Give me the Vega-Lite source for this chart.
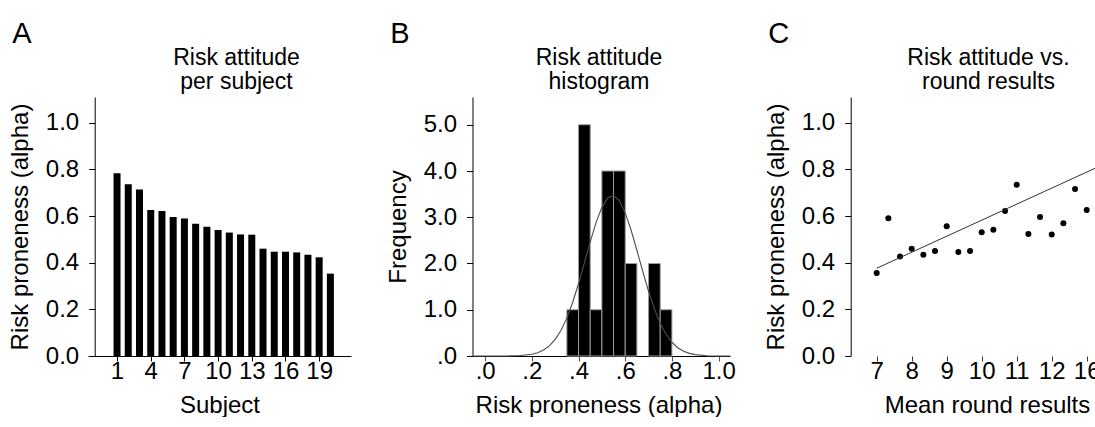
{
  "$schema": "https://vega.github.io/schema/vega-lite/v6.json",
  "padding": {"left": 8, "top": 20, "right": 0, "bottom": 0},
  "spacing": 116,
  "bounds": "flush",
  "config": {
    "font": "Liberation Sans",
    "view": {"stroke": null},
    "axis": {
      "grid": false,
      "labelFont": "Liberation Sans",
      "titleFont": "Liberation Sans",
      "labelFontSize": 24,
      "titleFontSize": 24,
      "titleFontWeight": "normal",
      "labelColor": "black",
      "titleColor": "black",
      "domainColor": "black",
      "tickColor": "black",
      "domainWidth": 1,
      "tickWidth": 1
    },
    "axisX": {"tickSize": 5, "labelPadding": -2, "titlePadding": 10, "labelOverlap": false},
    "axisY": {"tickSize": 6, "labelPadding": 10, "titlePadding": 13},
    "title": {"font": "Liberation Sans", "fontSize": 29, "fontWeight": "normal", "anchor": "start", "frame": "bounds", "color": "black", "offset": -3, "dx": 4}
  },
  "datasets": {
    "subjects": [
      {"subject": 1, "alpha": 0.783}, {"subject": 2, "alpha": 0.736}, {"subject": 3, "alpha": 0.714},
      {"subject": 4, "alpha": 0.626}, {"subject": 5, "alpha": 0.621}, {"subject": 6, "alpha": 0.596},
      {"subject": 7, "alpha": 0.589}, {"subject": 8, "alpha": 0.567}, {"subject": 9, "alpha": 0.554},
      {"subject": 10, "alpha": 0.540}, {"subject": 11, "alpha": 0.529}, {"subject": 12, "alpha": 0.521},
      {"subject": 13, "alpha": 0.520}, {"subject": 14, "alpha": 0.460}, {"subject": 15, "alpha": 0.447},
      {"subject": 16, "alpha": 0.447}, {"subject": 17, "alpha": 0.444}, {"subject": 18, "alpha": 0.434},
      {"subject": 19, "alpha": 0.423}, {"subject": 20, "alpha": 0.353}
    ],
    "bins": [
      {"start": 0.35, "end": 0.40, "count": 1}, {"start": 0.40, "end": 0.45, "count": 5},
      {"start": 0.45, "end": 0.50, "count": 1}, {"start": 0.50, "end": 0.55, "count": 4},
      {"start": 0.55, "end": 0.60, "count": 4}, {"start": 0.60, "end": 0.65, "count": 2},
      {"start": 0.70, "end": 0.75, "count": 2}, {"start": 0.75, "end": 0.80, "count": 1}
    ],
    "curve": [
      {"x": -0.05, "density": 0}, {"x": 0.0, "density": 0}, {"x": 0.05, "density": 0.0003},
      {"x": 0.10, "density": 0.0019}, {"x": 0.15, "density": 0.0095}, {"x": 0.20, "density": 0.0386},
      {"x": 0.225, "density": 0.072}, {"x": 0.25, "density": 0.129}, {"x": 0.275, "density": 0.220},
      {"x": 0.30, "density": 0.359}, {"x": 0.325, "density": 0.557}, {"x": 0.35, "density": 0.824},
      {"x": 0.375, "density": 1.163}, {"x": 0.40, "density": 1.567}, {"x": 0.425, "density": 2.014},
      {"x": 0.45, "density": 2.467}, {"x": 0.475, "density": 2.883}, {"x": 0.50, "density": 3.214},
      {"x": 0.525, "density": 3.418}, {"x": 0.55, "density": 3.467}, {"x": 0.575, "density": 3.354},
      {"x": 0.60, "density": 3.095}, {"x": 0.625, "density": 2.724}, {"x": 0.65, "density": 2.287},
      {"x": 0.675, "density": 1.832}, {"x": 0.70, "density": 1.399}, {"x": 0.725, "density": 1.019},
      {"x": 0.75, "density": 0.708}, {"x": 0.775, "density": 0.470}, {"x": 0.80, "density": 0.297},
      {"x": 0.825, "density": 0.179}, {"x": 0.85, "density": 0.103}, {"x": 0.875, "density": 0.057},
      {"x": 0.90, "density": 0.030}, {"x": 0.95, "density": 0.007}, {"x": 1.00, "density": 0.0014},
      {"x": 1.05, "density": 0.0002}
    ],
    "scatter": [
      {"rank": 1, "alpha": 0.356}, {"rank": 2, "alpha": 0.590}, {"rank": 3, "alpha": 0.426},
      {"rank": 4, "alpha": 0.460}, {"rank": 5, "alpha": 0.434}, {"rank": 6, "alpha": 0.450},
      {"rank": 7, "alpha": 0.556}, {"rank": 8, "alpha": 0.446}, {"rank": 9, "alpha": 0.450},
      {"rank": 10, "alpha": 0.530}, {"rank": 11, "alpha": 0.541}, {"rank": 12, "alpha": 0.621},
      {"rank": 13, "alpha": 0.734}, {"rank": 14, "alpha": 0.523}, {"rank": 15, "alpha": 0.596},
      {"rank": 16, "alpha": 0.521}, {"rank": 17, "alpha": 0.569}, {"rank": 18, "alpha": 0.716},
      {"rank": 19, "alpha": 0.626}, {"rank": 20, "alpha": 0.783}
    ],
    "fit": [
      {"rank": 1, "alpha": 0.376}, {"rank": 21, "alpha": 0.834}
    ]
  },
  "hconcat": [
    {
      "width": 263,
      "height": 259,
      "title": {"text": "A"},
      "data": {"name": "subjects"},
      "layer": [
        {
          "mark": {"type": "bar", "size": 7, "color": "black"},
          "encoding": {
            "x": {"field": "subject", "type": "quantitative",
                  "scale": {"domain": [-1.14, 21.39], "nice": false, "zero": false},
                  "axis": {"values": [1, 4, 7, 10, 13, 16, 19], "format": "d", "title": "Subject"}},
            "y": {"field": "alpha", "type": "quantitative",
                  "scale": {"domain": [0, 1.11], "nice": false},
                  "axis": {"values": [0, 0.2, 0.4, 0.6, 0.8, 1.0], "format": ".1f", "title": "Risk proneness (alpha)", "offset": -6.7}}
          }
        },
        {
          "mark": {"type": "point", "opacity": 0},
          "encoding": {
            "x": {"field": "subject", "type": "quantitative",
                  "axis": {"orient": "top", "domain": false, "ticks": false, "labels": false,
                           "title": ["Risk attitude", "per subject"], "titleFontSize": 23, "titleLineHeight": 24,
                           "titlePadding": 4, "titleX": 148}}
          }
        }
      ],
      "resolve": {"axis": {"x": "independent"}}
    },
    {
      "width": 263,
      "height": 259,
      "title": {"text": "B"},
      "layer": [
        {
          "data": {"name": "bins"},
          "mark": {"type": "bar", "color": "black", "stroke": "#9a9a9a", "strokeWidth": 1},
          "encoding": {
            "x": {"field": "start", "type": "quantitative",
                  "scale": {"domain": [-0.078, 1.049], "nice": false, "zero": false},
                  "axis": {"values": [0, 0.2, 0.4, 0.6, 0.8, 1.0], "labelExpr": "replace(format(datum.value, '.1f'), '0.', '.')", "title": "Risk proneness (alpha)", "tickColor": "#555"}},
            "x2": {"field": "end"},
            "y": {"field": "count", "type": "quantitative",
                  "scale": {"domain": [0, 5.6], "nice": false},
                  "axis": {"values": [0, 1, 2, 3, 4, 5], "labelExpr": "replace(format(datum.value, '.1f'), '0.0', '.0')", "title": "Frequency", "offset": -5.5}},
            "y2": {"datum": 0}
          }
        },
        {
          "data": {"name": "curve"},
          "mark": {"type": "line", "color": "#4d4d4d", "strokeWidth": 1.1},
          "encoding": {
            "x": {"field": "x", "type": "quantitative", "axis": null},
            "y": {"field": "density", "type": "quantitative",
                  "axis": {"values": [0, 1, 2, 3, 4, 5], "labelExpr": "replace(format(datum.value, '.1f'), '0.0', '.0')", "title": "Frequency", "offset": -5.5}}
          }
        },
        {
          "data": {"name": "bins"},
          "mark": {"type": "point", "opacity": 0},
          "encoding": {
            "x": {"field": "start", "type": "quantitative",
                  "axis": {"orient": "top", "domain": false, "ticks": false, "labels": false,
                           "title": ["Risk attitude", "histogram"], "titleFontSize": 23, "titleLineHeight": 24,
                           "titlePadding": 4}}
          }
        }
      ],
      "resolve": {"axis": {"x": "independent"}}
    },
    {
      "width": 263,
      "height": 259,
      "title": {"text": "C"},
      "layer": [
        {
          "data": {"name": "scatter"},
          "mark": {"type": "point", "filled": true, "size": 36, "color": "black", "opacity": 1},
          "encoding": {
            "x": {"field": "rank", "type": "quantitative",
                  "scale": {"domain": [-1.63, 20.91], "nice": false, "zero": false},
                  "axis": {"values": [1, 4, 7, 10, 13, 16, 19], "domain": false, "tickColor": "#333",
                           "labelExpr": "['7', '8', '9', '10', '11', '12', '16'][(datum.value - 1) / 3]",
                           "title": "Mean round results", "titleX": 141}},
            "y": {"field": "alpha", "type": "quantitative",
                  "scale": {"domain": [0, 1.11], "nice": false},
                  "axis": {"values": [0, 0.2, 0.4, 0.6, 0.8, 1.0], "format": ".1f", "title": "Risk proneness (alpha)", "offset": -4.7}}
          }
        },
        {
          "data": {"name": "fit"},
          "mark": {"type": "line", "color": "#333333", "strokeWidth": 1, "clip": true},
          "encoding": {
            "x": {"field": "rank", "type": "quantitative", "axis": null},
            "y": {"field": "alpha", "type": "quantitative"}
          }
        },
        {
          "data": {"name": "scatter"},
          "mark": {"type": "point", "opacity": 0},
          "encoding": {
            "x": {"field": "rank", "type": "quantitative",
                  "axis": {"orient": "top", "domain": false, "ticks": false, "labels": false,
                           "title": ["Risk attitude vs.", "round results"], "titleFontSize": 23, "titleLineHeight": 24,
                           "titlePadding": 4, "titleX": 142}}
          }
        }
      ],
      "resolve": {"axis": {"x": "independent"}}
    }
  ]
}
